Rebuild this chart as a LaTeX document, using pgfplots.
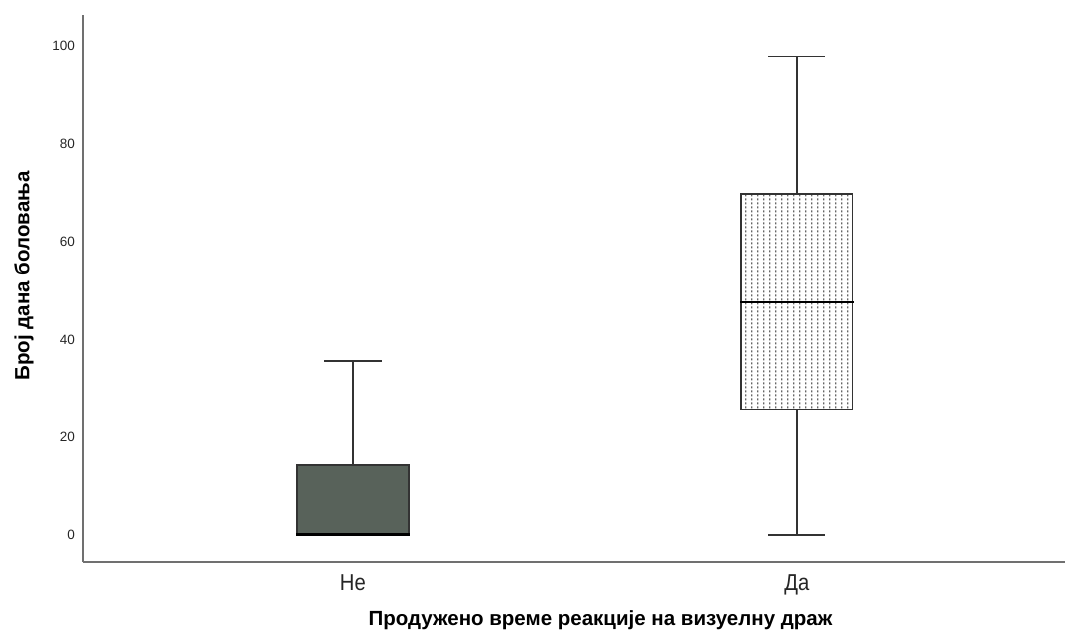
\documentclass[border=0pt]{standalone}
\usepackage{pgfplots}
\pgfplotsset{compat=1.18}
\usetikzlibrary{patterns}
\usepackage{fontspec}
\setmainfont{Liberation Sans}
\newfontfamily\narrowsans{Liberation Sans}[FakeStretch=0.88]
\definecolor{boxgrey}{HTML}{58625A}
\definecolor{axgrey}{HTML}{707070}
\definecolor{boxline}{HTML}{333333}
\pgfdeclarepatternformonly{vdots}{\pgfpointorigin}{\pgfqpoint{6.2pt}{3.7pt}}{\pgfqpoint{6.2pt}{3.7pt}}{%
  \pgfpathrectangle{\pgfqpoint{2.5pt}{0.8pt}}{\pgfqpoint{1.2pt}{2.0pt}}\pgfusepath{fill}}
\begin{document}
\begin{tikzpicture}
\useasboundingbox (-83pt,-76pt) rectangle (986pt,562pt);
\begin{axis}[
  at={(0,0)}, anchor=south west,
  scale only axis,
  width=982pt, height=547pt,
  xmin=0.392, xmax=2.604,
  ymin=-5.5, ymax=106.3,
  axis x line*=bottom, axis y line*=left,
  axis line style={axgrey, line width=1.2pt, -},
  major tick length=0pt,
  xtick={1,2}, xticklabels={Не,Да},
  ytick={0,20,40,60,80,100},
  /pgf/number format/assume math mode=true,
  yticklabel style={font=\fontsize{13.5}{16}\selectfont, text=black!85, anchor=east, inner sep=0pt, xshift=-8pt},
  xticklabel style={font=\narrowsans\fontsize{23}{26}\selectfont, text=black!85, anchor=base, inner sep=0pt, yshift=-28pt},
  xlabel={\bfseries Продужено време реакције на визуелну драж},
  ylabel={\bfseries Број дана боловања},
  xlabel style={font=\fontsize{20.5}{24}\selectfont, at={(axis description cs:0.527,-0.106)}, anchor=center},
  ylabel style={font=\fontsize{20.5}{24}\selectfont, at={(axis description cs:-0.06,0.523)}, anchor=center},
  clip=false,
  every axis plot/.append style={no marks, forget plot, line cap=rect},
]
% Не: lower whisker 0, Q1 0, median 0.2, Q3 14.3, upper whisker 35.6
\addplot[draw=boxline, line width=1.3pt, fill=boxgrey] coordinates {(0.874,0) (1.126,0) (1.126,14.3) (0.874,14.3)} -- cycle;
\addplot[draw=boxline, line width=1.3pt] coordinates {(1,14.3) (1,35.6)};
\addplot[draw=boxline, line width=1.3pt] coordinates {(0.937,35.6) (1.063,35.6)};
\addplot[draw=black, line width=2.4pt] coordinates {(0.874,0.1) (1.126,0.1)};
% Да: lower whisker 0, Q1 25.6, median 47.6, Q3 69.7, upper whisker 97.8
\addplot[draw=none, pattern=vdots, pattern color=black!60] coordinates {(1.874,25.6) (2.126,25.6) (2.126,69.7) (1.874,69.7)} -- cycle;
\addplot[draw=boxline, line width=1.3pt] coordinates {(1.874,25.6) (2.126,25.6) (2.126,69.7) (1.874,69.7)} -- cycle;
\addplot[draw=boxline, line width=1.3pt] coordinates {(2,69.7) (2,97.8)};
\addplot[draw=boxline, line width=1.3pt] coordinates {(1.937,97.8) (2.063,97.8)};
\addplot[draw=boxline, line width=1.3pt] coordinates {(2,25.6) (2,0)};
\addplot[draw=boxline, line width=1.3pt] coordinates {(1.937,0) (2.063,0)};
\addplot[draw=black, line width=2.2pt] coordinates {(1.874,47.6) (2.126,47.6)};
\end{axis}
\end{tikzpicture}
\end{document}
